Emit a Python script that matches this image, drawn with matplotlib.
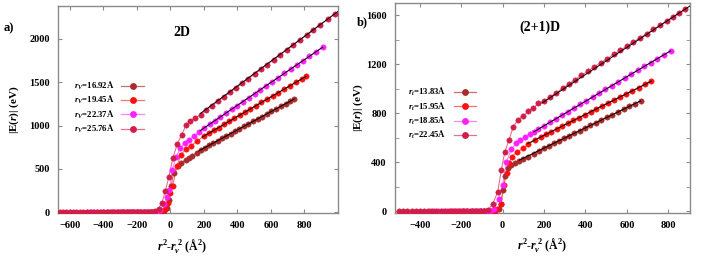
import matplotlib
matplotlib.use("Agg")
import matplotlib.pyplot as plt
from matplotlib.ticker import MultipleLocator

plt.rcParams['font.family'] = ['Liberation Serif', 'DejaVu Serif']
plt.rcParams['font.weight'] = 'bold'
plt.rcParams['mathtext.fontset'] = 'custom'
plt.rcParams['mathtext.rm'] = 'Liberation Serif:bold'
plt.rcParams['mathtext.it'] = 'Liberation Serif:italic:bold'
plt.rcParams['mathtext.bf'] = 'Liberation Serif:bold'

# ---------------- 2D panel data ----------------
flat_2d = [-660, -640, -620, -600, -580, -560, -540, -520, -500, -480, -460, -440, -420, -400,
           -380, -360, -340, -320, -300, -280, -260, -240, -220, -200, -180, -160, -140, -120]

labels_2d = ["$r_V$=16.92Å", "$r_V$=19.45Å", "$r_V$=22.37Å", "$r_V$=25.76Å"]

x_2d_brown = [-280, -260, -240, -220, -200, -180, -160, -140, -120, -100, -80, -60, -40, -22, -6, 4, 20,
              43, 63, 93, 110, 132, 157, 182, 207, 232, 257, 282, 308, 334, 360, 386, 412, 439, 466,
              493, 520, 547, 575, 603, 631, 659, 687, 715, 739]
y_2d_brown = [0, 0, 0, 0, 0, 0, 0, 0, 0, 0, 2, 5, 15, 46, 143, 297, 450,
              528, 566, 605, 630, 651, 688, 720, 746, 773, 799, 825, 853, 880, 907, 935, 962, 990, 1019,
              1047, 1076, 1104, 1133, 1163, 1192, 1222, 1251, 1281, 1306]

x_2d_red = [-370, -350, -330, -310, -290, -270, -250, -230, -210, -190, -170, -150, -130, -110, -90,
            -70, -50, -30, -16, 0, 14, 40, 63, 93, 123, 158, 198, 228, 258, 288, 319, 350, 381, 413,
            445, 477, 510, 543, 576, 610, 644, 678, 713, 748, 783, 810]
y_2d_red = [0, 0, 0, 0, 0, 0, 0, 0, 0, 0, 0, 0, 0, 0, 1,
            3, 10, 35, 104, 220, 304, 536, 663, 732, 767, 817, 875, 909, 943, 977, 1012, 1047, 1082, 1119,
            1155, 1191, 1228, 1266, 1303, 1342, 1380, 1419, 1458, 1498, 1538, 1568]

x_2d_mag = [-495, -475, -455, -435, -415, -395, -375, -355, -335, -315, -295, -275, -255, -235, -215,
            -195, -175, -155, -135, -115, -100, -80, -60, -40, -20, -5, 12, 35, 60, 85, 110, 140, 172,
            202, 234, 266, 299, 332, 365, 399, 433, 467, 502, 537, 572, 608, 644, 680, 717, 754, 792,
            830, 869, 909]
y_2d_mag = [0, 0, 0, 0, 0, 0, 0, 0, 0, 0, 0, 0, 0, 0, 0,
            0, 0, 0, 0, 0, 2, 8, 30, 90, 170, 260, 490, 640, 740, 800, 836, 875, 921,
            971, 1013, 1055, 1099, 1143, 1186, 1231, 1276, 1321, 1367, 1413, 1459, 1507, 1554, 1602, 1651,
            1700, 1750, 1800, 1851, 1904]

x_2d_crim = flat_2d + [-110, -90, -70, -50, -30, -10, 15, 42, 68, 95, 120, 150, 180, 215, 250, 285,
                       320, 356, 392, 428, 465, 502, 540, 578, 616, 655, 694, 733, 773, 813, 853, 895,
                       938, 982]
y_2d_crim = [0] * len(flat_2d) + [2, 10, 40, 110, 240, 400, 625, 790, 895, 1010, 1050, 1085, 1126,
                                  1177, 1228, 1279, 1330, 1382, 1434, 1486, 1540, 1594, 1649, 1704,
                                  1759, 1816, 1873, 1929, 1987, 2045, 2103, 2164, 2227, 2291]

fit_2d_x = [[170, 739], [190, 810], [178, 909], [180, 1000]]
fit_2d_y = [[707, 1306], [866, 1568], [941, 1904], [1140, 2317]]

# ---------------- (2+1)D panel data ----------------
labels_3d = ["$r_t$=13.83Å", "$r_t$=15.95Å", "$r_t$=18.85Å", "$r_t$=22.45Å"]

x_3d_brown = [-190, -170, -150, -130, -110, -90, -70, -50, -35, -20, -8, 3, 12, 24, 40, 60, 80, 100,
              124, 150, 176, 200, 224, 248, 272, 297, 322, 347, 372, 398, 424, 450, 476, 503, 530,
              557, 584, 611, 638, 666]
y_3d_brown = [0, 0, 0, 0, 0, 0, 0, 0, 3, 15, 60, 170, 290, 350, 375, 392, 408, 422,
              445, 470, 492, 515, 535, 555, 574, 595, 616, 636, 657, 679, 700, 722, 743, 765, 788,
              810, 832, 855, 877, 900]

x_3d_red = [-250, -230, -210, -190, -170, -150, -130, -110, -90, -70, -55, -40, -25, -10, 6, 19, 30,
            44, 71, 100, 124, 157, 183, 209, 235, 261, 288, 315, 342, 369, 397, 425, 453, 481, 510,
            539, 568, 597, 627, 657, 688, 719]
y_3d_red = [0, 0, 0, 0, 0, 0, 0, 0, 0, 0, 1, 3, 15, 60, 215, 309, 390,
            444, 484, 513, 546, 583, 605, 627, 649, 672, 695, 718, 741, 764, 787, 811, 835, 859, 884,
            908, 933, 958, 983, 1009, 1035, 1062]

x_3d_mag = [-350, -330, -310, -290, -270, -250, -230, -210, -190, -170, -150, -130, -110, -95, -80,
            -60, -40, -20, 0, 18, 42, 65, 85, 108, 130, 152, 173, 201, 229, 258, 287, 316, 345, 375,
            405, 435, 465, 496, 527, 558, 589, 620, 652, 684, 716, 748, 780, 811]
y_3d_mag = [0, 0, 0, 0, 0, 0, 0, 0, 0, 0, 0, 0, 0, 0, 1,
            5, 20, 100, 215, 400, 505, 553, 578, 605, 628, 650, 670, 698, 726, 755, 784, 813, 842, 872,
            902, 932, 963, 994, 1025, 1056, 1087, 1118, 1150, 1182, 1214, 1246, 1278, 1309]

x_3d_crim = [-500, -480, -460, -440, -420, -400, -380, -360, -340, -320, -300, -280, -260, -240, -220,
             -200, -180, -160, -140, -120, -105, -90, -70, -48, -24, -6, 10, 30, 52, 75, 100, 124, 149,
             173, 202, 231, 260, 290, 320, 350, 380, 411, 442, 473, 504, 536, 568, 600, 632, 664,
             696, 728, 760, 792, 822, 851, 880]
y_3d_crim = [0, 0, 0, 0, 0, 0, 0, 0, 0, 0, 0, 0, 0, 0, 0,
             0, 0, 0, 0, 0, 0, 2, 12, 60, 155, 340, 480, 580, 690, 748, 780, 815, 845,
             880, 897, 934, 969, 1004, 1039, 1075, 1109, 1143, 1178, 1212, 1245, 1280, 1314, 1348,
             1382, 1416, 1450, 1484, 1519, 1553, 1586, 1617, 1648]

fit_3d_x = [[80, 666], [120, 719], [150, 811], [190, 905]]
fit_3d_y = [[416, 900], [551, 1062], [647, 1309], [883, 1676]]

colors = ['#A82C2C', '#FF1010', '#FF20FF', '#D01E48']
line_colors = ['#C87070', '#FF7070', '#FF80FF', '#E87090']

fig = plt.figure(figsize=(7.05, 2.58), dpi=100)
axA = fig.add_axes([58 / 705, 1 - 213 / 258, 280 / 705, 207 / 258])
axB = fig.add_axes([395 / 705, 1 - 213 / 258, 295 / 705, 210 / 258])


def draw(ax, xs, ys, labels, fx, fy):
    handles = []
    for x, y, c, lc, lab in zip(xs, ys, colors, line_colors, labels):
        ax.plot(x, y, '-', color=lc, lw=0.8, zorder=2)
        ax.plot(x, y, 'o', color=c, ms=3.9, mec=c, mew=0.3, zorder=3)
        h, = ax.plot([], [], '-o', color=c, ms=3.9, lw=0.9, label=lab)
        h.set_color(lc)
        h.set_markerfacecolor(c)
        h.set_markeredgecolor(c)
        handles.append(h)
    for x, y in zip(fx, fy):
        ax.plot(x, y, '-', color='black', lw=0.7, zorder=4)
    return handles


hA = draw(axA, [x_2d_brown, x_2d_red, x_2d_mag, x_2d_crim],
          [y_2d_brown, y_2d_red, y_2d_mag, y_2d_crim], labels_2d, fit_2d_x, fit_2d_y)
hB = draw(axB, [x_3d_brown, x_3d_red, x_3d_mag, x_3d_crim],
          [y_3d_brown, y_3d_red, y_3d_mag, y_3d_crim], labels_3d, fit_3d_x, fit_3d_y)

axA.set_xlim(-670, 1000)
axA.set_ylim(-10, 2380)
axA.xaxis.set_major_locator(MultipleLocator(200))
axA.yaxis.set_major_locator(MultipleLocator(500))

axB.set_xlim(-520, 905)
axB.set_ylim(-15, 1700)
axB.xaxis.set_major_locator(MultipleLocator(200))
axB.yaxis.set_major_locator(MultipleLocator(400))
axB.yaxis.set_minor_locator(MultipleLocator(200))

for ax in (axA, axB):
    for s in ax.spines.values():
        s.set_color('#8a8a8a')
        s.set_linewidth(1.0)
    ax.tick_params(direction='in', which='both', top=True, right=True, length=3,
                   color='#8a8a8a', labelsize=7.5, pad=6)
    ax.tick_params(which='minor', length=3)
    for t in ax.get_xticklabels() + ax.get_yticklabels():
        t.set_fontweight('bold')
    ax.set_xlabel('$r^2$-$r_v^{\\ 2}$ (Å$^2$)', fontsize=8.5, fontweight='bold', labelpad=4)

axA.set_ylabel('|E($r$)| (eV)', fontsize=8, fontweight='bold', labelpad=6)
axB.set_ylabel('|E($r$)| (eV)', fontsize=8, fontweight='bold', labelpad=1)
axA.xaxis.set_label_coords(0.443, -0.115)

axA.set_xticks([-600, -400, -200, 0, 200, 400, 600, 800])
axB.set_xticks([-400, -200, 0, 200, 400, 600, 800])

axA.text(0.443, 0.874, '2D', transform=axA.transAxes, fontsize=10, fontweight='bold',
         ha='center', va='center')
axB.text(0.49, 0.886, '(2+1)D', transform=axB.transAxes, fontsize=10, fontweight='bold',
         ha='center', va='center')

legA = axA.legend(handles=hA, loc='upper left', bbox_to_anchor=(0.04, 0.665), frameon=False,
                  markerfirst=False, fontsize=6.3, handlelength=2.6, labelspacing=0.25,
                  borderpad=0, handletextpad=0.8)
legB = axB.legend(handles=hB, loc='upper left', bbox_to_anchor=(0.03, 0.625), frameon=False,
                  markerfirst=False, fontsize=6.3, handlelength=2.6, labelspacing=0.25,
                  borderpad=0, handletextpad=0.8)

fig.text(9 / 705, 1 - 28 / 258, 'a)', fontsize=9, fontweight='bold', ha='center', va='center')
fig.text(362 / 705, 1 - 22 / 258, 'b)', fontsize=9, fontweight='bold', ha='center', va='center')

fig.savefig('out.png', dpi=100)
